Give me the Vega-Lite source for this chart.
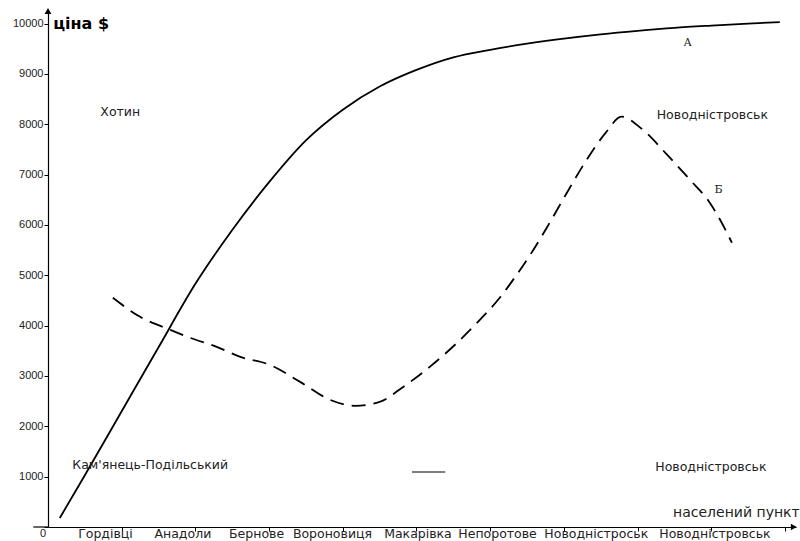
{
  "$schema": "https://vega.github.io/schema/vega-lite/v6.json",
  "width": 748,
  "height": 516,
  "autosize": {"type": "none"},
  "padding": {"left": 48, "top": 11, "right": 4, "bottom": 14},
  "background": "white",
  "config": {"view": {"stroke": null}, "font": "DejaVu Sans"},
  "datasets": {
    "curveA": [
      {"x": 0.16, "y": 179}, {"x": 0.5, "y": 1029}, {"x": 1.0, "y": 2300}, {"x": 1.5, "y": 3570},
      {"x": 2.0, "y": 4830}, {"x": 2.5, "y": 5900}, {"x": 3.0, "y": 6850}, {"x": 3.5, "y": 7680},
      {"x": 4.0, "y": 8290}, {"x": 4.5, "y": 8750}, {"x": 5.0, "y": 9080}, {"x": 5.5, "y": 9330},
      {"x": 6.0, "y": 9480}, {"x": 6.5, "y": 9600}, {"x": 7.0, "y": 9700}, {"x": 7.5, "y": 9785},
      {"x": 8.0, "y": 9855}, {"x": 8.5, "y": 9915}, {"x": 9.0, "y": 9960}, {"x": 9.5, "y": 10000},
      {"x": 9.93, "y": 10030}
    ],
    "curveB": [
      {"x": 0.88, "y": 4553}, {"x": 1.25, "y": 4175}, {"x": 1.66, "y": 3917}, {"x": 1.93, "y": 3757},
      {"x": 2.29, "y": 3579}, {"x": 2.61, "y": 3380}, {"x": 3.01, "y": 3221}, {"x": 3.42, "y": 2883},
      {"x": 3.83, "y": 2525}, {"x": 4.17, "y": 2406}, {"x": 4.5, "y": 2485}, {"x": 4.82, "y": 2783},
      {"x": 5.18, "y": 3181}, {"x": 5.55, "y": 3658}, {"x": 5.86, "y": 4115}, {"x": 6.13, "y": 4553},
      {"x": 6.34, "y": 4970}, {"x": 6.54, "y": 5400}, {"x": 6.77, "y": 5950}, {"x": 7.01, "y": 6560},
      {"x": 7.31, "y": 7296}, {"x": 7.58, "y": 7853}, {"x": 7.78, "y": 8151}, {"x": 8.07, "y": 7893},
      {"x": 8.4, "y": 7396}, {"x": 8.71, "y": 6899}, {"x": 8.98, "y": 6441}, {"x": 9.12, "y": 6103},
      {"x": 9.28, "y": 5646}
    ],
    "notes": [
      {"text": "Хотин", "x": 0.71, "y": 8250},
      {"text": "Новодністровськ", "x": 8.26, "y": 8190},
      {"text": "Кам'янець-Подільський", "x": 0.33, "y": 1233},
      {"text": "Новодністровськ", "x": 8.24, "y": 1193}
    ],
    "curveNames": [
      {"text": "А", "x": 8.68, "y": 9622},
      {"text": "Б", "x": 9.1, "y": 6700}
    ],
    "places": [
      {"name": "Гордівці", "x": 0.78},
      {"name": "Анадоли", "x": 1.83},
      {"name": "Бернове", "x": 2.83},
      {"name": "Вороновиця", "x": 3.86},
      {"name": "Макарівка", "x": 5.02},
      {"name": "Непоротове", "x": 6.1},
      {"name": "Новодністроськ", "x": 7.44},
      {"name": "Новодністровськ", "x": 9.05}
    ]
  },
  "layer": [
    {
      "data": {"name": "curveA"},
      "mark": {"type": "line", "interpolate": "monotone", "color": "black", "strokeWidth": 1.8},
      "encoding": {
        "x": {
          "field": "x", "type": "quantitative",
          "scale": {"domain": [0, 10.15], "nice": false, "zero": false},
          "axis": {
            "values": [1, 2, 3, 4, 5, 6, 7, 8, 9, 10],
            "labels": false, "title": null, "grid": false,
            "domainColor": "black", "domainWidth": 1.2,
            "tickColor": "black", "tickSize": 4
          }
        },
        "y": {
          "field": "y", "type": "quantitative",
          "scale": {"domain": [0, 10250], "nice": false},
          "axis": {
            "values": [0, 500, 1000, 1500, 2000, 2500, 3000, 3500, 4000, 4500, 5000, 5500, 6000, 6500, 7000, 7500, 8000, 8500, 9000, 9500, 10000],
            "format": "d",
            "labelExpr": "datum.value % 1000 === 0 && datum.value > 0 ? datum.label : ''",
            "labelFont": "Liberation Sans", "labelFontSize": 11, "labelColor": "#222",
            "labelPadding": 1,
            "title": null, "grid": false,
            "domainColor": "black", "domainWidth": 1.2,
            "tickColor": "black", "tickSize": 4
          }
        }
      }
    },
    {
      "data": {"name": "curveB"},
      "mark": {"type": "line", "interpolate": "monotone", "color": "black", "strokeWidth": 1.8, "strokeDash": [14, 8]},
      "encoding": {
        "x": {"field": "x", "type": "quantitative"},
        "y": {"field": "y", "type": "quantitative"}
      }
    },
    {
      "data": {"values": [{}]},
      "mark": {"type": "rule", "color": "black", "strokeWidth": 1.2},
      "encoding": {
        "x": {"datum": -0.2, "type": "quantitative"},
        "x2": {"datum": 0},
        "y": {"datum": 0, "type": "quantitative"}
      }
    },
    {
      "data": {"values": [{}]},
      "mark": {"type": "rule", "color": "#555", "strokeWidth": 1.5},
      "encoding": {
        "x": {"datum": 4.94, "type": "quantitative"},
        "x2": {"datum": 5.39},
        "y": {"datum": 1093, "type": "quantitative"}
      }
    },
    {
      "data": {"values": [{}]},
      "mark": {"type": "point", "shape": "triangle-up", "filled": true, "color": "black", "size": 45, "opacity": 1},
      "encoding": {
        "x": {"datum": 0, "type": "quantitative"},
        "y": {"datum": 10250, "type": "quantitative"}
      }
    },
    {
      "data": {"values": [{}]},
      "mark": {"type": "point", "shape": "triangle-right", "filled": true, "color": "black", "size": 45, "opacity": 1},
      "encoding": {
        "x": {"datum": 10.12, "type": "quantitative"},
        "y": {"datum": 0, "type": "quantitative"}
      }
    },
    {
      "data": {"values": [{}]},
      "mark": {"type": "text", "text": "ціна $", "font": "DejaVu Sans", "fontWeight": "bold", "fontSize": 16, "align": "left", "baseline": "middle", "color": "black"},
      "encoding": {
        "x": {"datum": 0.07, "type": "quantitative"},
        "y": {"datum": 10000, "type": "quantitative"}
      }
    },
    {
      "data": {"values": [{}]},
      "mark": {"type": "text", "text": "населений пункт", "font": "DejaVu Sans", "fontSize": 14, "align": "right", "baseline": "middle", "color": "#222"},
      "encoding": {
        "x": {"datum": 10.2, "type": "quantitative"},
        "y": {"datum": 280, "type": "quantitative"}
      }
    },
    {
      "data": {"values": [{}]},
      "mark": {"type": "text", "text": "0", "font": "Liberation Sans", "fontSize": 11, "align": "right", "baseline": "top", "color": "#222", "dx": -2, "dy": 1},
      "encoding": {
        "x": {"datum": 0, "type": "quantitative"},
        "y": {"datum": 0, "type": "quantitative"}
      }
    },
    {
      "data": {"name": "notes"},
      "mark": {"type": "text", "font": "DejaVu Sans", "fontSize": 12.5, "align": "left", "baseline": "middle", "color": "#222"},
      "encoding": {
        "x": {"field": "x", "type": "quantitative"},
        "y": {"field": "y", "type": "quantitative"},
        "text": {"field": "text"}
      }
    },
    {
      "data": {"name": "curveNames"},
      "mark": {"type": "text", "font": "DejaVu Serif", "fontSize": 11, "align": "center", "baseline": "middle", "color": "#222"},
      "encoding": {
        "x": {"field": "x", "type": "quantitative"},
        "y": {"field": "y", "type": "quantitative"},
        "text": {"field": "text"}
      }
    },
    {
      "data": {"name": "places"},
      "mark": {"type": "text", "font": "DejaVu Sans", "fontSize": 12.5, "align": "center", "baseline": "top", "dy": 1, "color": "#222"},
      "encoding": {
        "x": {"field": "x", "type": "quantitative"},
        "y": {"datum": 0, "type": "quantitative"},
        "text": {"field": "name"}
      }
    }
  ]
}
